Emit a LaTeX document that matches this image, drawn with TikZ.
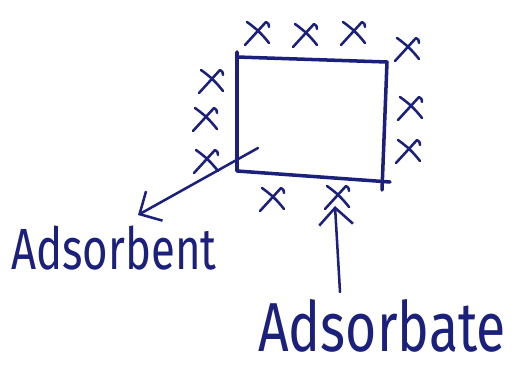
\documentclass[tikz,border=0pt]{standalone}
\usepackage{graphicx}
\usepackage{fontspec}
\setmainfont{Fira Sans}
\usetikzlibrary{arrows.meta,calc}
\definecolor{ink}{RGB}{28,32,125}
\tikzset{
  ink/.style={draw=ink, line cap=round, line join=round},
  edge/.style={ink, line width=5pt},
  cross/.style={ink, line width=3.6pt},
  pointer/.style={ink, line width=3.6pt, -{Straight Barb[length=24pt, width=48pt, line width=3.6pt]}},
  label/.style={text=ink, inner sep=0pt}
}
\newcommand{\xmark}[1]{%
  \draw[cross] ($(#1)+(-10,-10)$) to[bend left=8] ($(#1)+(12,11)$);
  \draw[cross] ($(#1)+(-12,13)$) -- ($(#1)+(9,-10)$) to[bend left=40] ($(#1)+(12,-5)$);
}
\begin{document}
\begin{tikzpicture}[x=0.5mm, y=-0.5mm]
  \useasboundingbox (0,0) rectangle (520,369);
  \fill[white] (0,0) rectangle (520,369);
  % surface corners
  \coordinate (tl) at (237,57);
  \coordinate (tr) at (387,62);
  \coordinate (br) at (382,182);
  \coordinate (bl) at (237,171);
  \draw[edge] (237,52) -- (tl) -- (tr) -- (382,190);
  \draw[edge] (tl) -- (bl) -- (390,182);
  % adsorbate particles
  \coordinate (x1) at (257,32);
  \coordinate (x2) at (305,34);
  \coordinate (x3) at (353,32);
  \coordinate (x4) at (407,48);
  \coordinate (x5) at (211,80);
  \coordinate (x6) at (205,118);
  \coordinate (x7) at (206,160);
  \coordinate (x8) at (410,107);
  \coordinate (x9) at (408,150);
  \coordinate (x10) at (272,198);
  \coordinate (x11) at (337,196);
  \foreach \c in {x1,x2,x3,x4,x5,x6,x7,x8,x9,x10,x11} {\xmark{\c}}
  % labels
  \node[label] (adsorbent) at (114,248) {\resizebox{292pt}{62pt}{Adsorbent}};
  \node[label] (adsorbate) at (382,326) {\resizebox{352pt}{74pt}{Adsorbate}};
  % pointers
  \coordinate (cornerstart) at (258,148);
  \coordinate (bentip) at (138,215);
  \draw[pointer] (cornerstart) -- (bentip);
  \coordinate (batestart) at (340,292);
  \coordinate (batetip) at (335,206);
  \draw[pointer] (batestart) -- (batetip);
\end{tikzpicture}
\end{document}
